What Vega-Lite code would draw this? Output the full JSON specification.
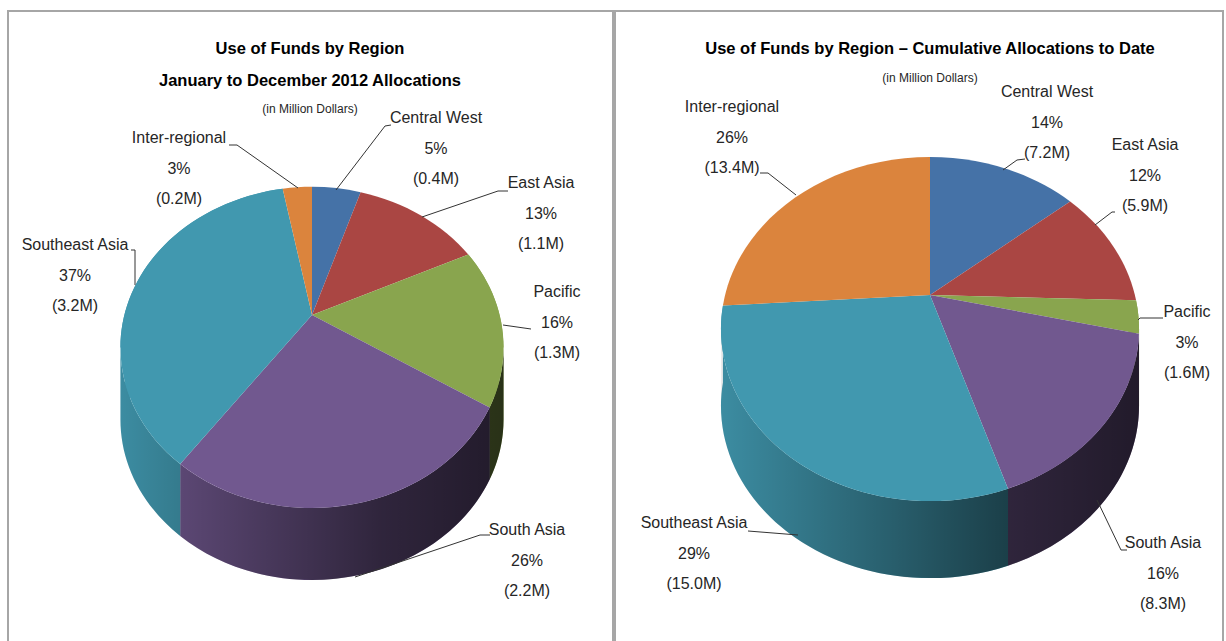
{
"$schema":"https://vega.github.io/schema/vega-lite/v6.json",
"width":1226,"height":641,"padding":0,"autosize":{"type":"none"},
"background":"white",
"view":{"stroke":null},
"config":{"text":{"font":"Liberation Sans"}},
"data":{"values":[
{"panel":"L","order":1,"region":"Central West","share":5,"amount":0.4},
{"panel":"L","order":2,"region":"East Asia","share":13,"amount":1.1},
{"panel":"L","order":3,"region":"Pacific","share":16,"amount":1.3},
{"panel":"L","order":4,"region":"South Asia","share":26,"amount":2.2},
{"panel":"L","order":5,"region":"Southeast Asia","share":37,"amount":3.2},
{"panel":"L","order":6,"region":"Inter-regional","share":3,"amount":0.2},
{"panel":"R","order":1,"region":"Central West","share":14.0,"amount":7.2},
{"panel":"R","order":2,"region":"East Asia","share":11.5,"amount":5.9},
{"panel":"R","order":3,"region":"Pacific","share":3.1,"amount":1.6},
{"panel":"R","order":4,"region":"South Asia","share":16.4,"amount":8.3},
{"panel":"R","order":5,"region":"Southeast Asia","share":29.0,"amount":15.0},
{"panel":"R","order":6,"region":"Inter-regional","share":26.0,"amount":13.4}
]},
"transform":[
{"stack":"share","groupby":["panel"],"sort":[{"field":"order","order":"ascending"}],"as":["s0","s1"]},
{"calculate":"datum.panel=='L'","as":"isL"},
{"calculate":"datum.isL?312:930","as":"cx"},
{"calculate":"datum.isL?315:295","as":"cy"},
{"calculate":"datum.isL?187.6:204.9","as":"a"},
{"calculate":"datum.isL?154:165.3","as":"b"},
{"calculate":"datum.isL?-0.202:-0.198","as":"k"},
{"calculate":"datum.isL?72:77","as":"depth"},
{"calculate":"datum.a/sqrt(1-datum.k*datum.k)","as":"R"},
{"calculate":"datum.b/(1-datum.k*datum.k)/datum.R","as":"rr"},
{"calculate":"-datum.b*datum.k/(1-datum.k*datum.k)/datum.R","as":"ec"},
{"calculate":"datum.depth/datum.R","as":"d"},
{"calculate":"4*datum.R*datum.R","as":"sz"},
{"calculate":"datum.s0/100*2*PI","as":"t0"},
{"calculate":"datum.s1/100*2*PI","as":"t1"},
{"calculate":"round(10000*datum.a*sin(datum.t0)/(1-datum.k*cos(datum.t0))/datum.R)/10000","as":"x0"},
{"calculate":"round(10000*datum.a*sin(datum.t1)/(1-datum.k*cos(datum.t1))/datum.R)/10000","as":"x1"},
{"calculate":"round(-10000*datum.b*cos(datum.t0)/(1-datum.k*cos(datum.t0))/datum.R)/10000","as":"y0"},
{"calculate":"round(-10000*datum.b*cos(datum.t1)/(1-datum.k*cos(datum.t1))/datum.R)/10000","as":"y1"},
{"calculate":"(atan2((datum.y1-datum.ec)/datum.rr,datum.x1)-atan2((datum.y0-datum.ec)/datum.rr,datum.x0)+4*PI)%(2*PI)>PI?1:0","as":"large"},
{"calculate":"'A1 '+datum.rr+' 0 '+datum.large+' 1 '+datum.x1+' '+datum.y1","as":"arcFwd"},
{"calculate":"'M0 0L'+datum.x0+' '+datum.y0+datum.arcFwd+'Z'","as":"topPath"},
{"calculate":"(datum.x0<0&&datum.x1<0&&datum.y0>datum.ec&&datum.y1<datum.ec)?('M-1 '+datum.ec+'L-1 '+(datum.ec+datum.d)+'L-0.95 '+(datum.ec+datum.d)+'L-0.95 '+datum.ec+'Z'):((datum.x0>0&&datum.x1>0&&datum.y0<datum.ec&&datum.y1>datum.ec)?('M1 '+datum.ec+'L0.95 '+datum.ec+'L0.95 '+(datum.ec+datum.d)+'L1 '+(datum.ec+datum.d)+'Z'):'')","as":"extremeFill"},
{"calculate":"'M'+datum.x0+' '+datum.y0+datum.arcFwd+'L'+datum.x1+' '+(datum.y1+datum.d)+'A1 '+datum.rr+' 0 '+datum.large+' 0 '+datum.x0+' '+(datum.y0+datum.d)+'Z'+datum.extremeFill","as":"sidePath"},
{"calculate":"'M1 '+datum.ec+'A1 '+datum.rr+' 0 0 1 -1 '+datum.ec+'L-1 '+(datum.ec+datum.d)+'A1 '+datum.rr+' 0 0 0 1 '+(datum.ec+datum.d)+'Z'","as":"shadePath"},
{"calculate":"datum.panel+'|'+datum.region","as":"key"},
{"calculate":"{'L|Central West':[436,123],'L|East Asia':[541,188],'L|Pacific':[557,297],'L|South Asia':[527,535],'L|Southeast Asia':[75,250],'L|Inter-regional':[179,143],'R|Central West':[1047,97],'R|East Asia':[1145,150],'R|Pacific':[1187,317],'R|South Asia':[1163,548],'R|Southeast Asia':[694,528],'R|Inter-regional':[732,112]}[datum.key]","as":"lab"},
{"calculate":"{'L|Central West':[391,125,385,126,336,190],'L|East Asia':[508,191,498,191,422,217],'L|Pacific':[531,329,531,329,503,325],'L|South Asia':[490,535,480,535,355,577],'L|Southeast Asia':[131,250,135,250,135,285],'L|Inter-regional':[229,145,237,145,298,188],'R|Central West':[1025,159,1017,160,1003,170],'R|East Asia':[1115,212,1112,212,1095,225],'R|Pacific':[1163,318,1140,318,1138,320],'R|South Asia':[1127,550,1121,550,1097,500],'R|Southeast Asia':[748,531,748,531,798,535],'R|Inter-regional':[760,173,768,173,796,195]}[datum.key]","as":"lead"},
{"calculate":"[datum.region,round(datum.share)+'%','('+(datum.amount==floor(datum.amount)?datum.amount+'.0':datum.amount)+'M)']","as":"labelLines"}
],
"encoding":{
"x":{"field":"px","type":"quantitative","axis":null,"scale":{"domain":[0,1226],"nice":false,"zero":false}},
"y":{"field":"py","type":"quantitative","axis":null,"scale":{"domain":[641,0],"nice":false,"zero":false}}
},
"layer":[
{"transform":[{"filter":"datum.order==1"},{"calculate":"datum.isL?8:615","as":"px"},{"calculate":"datum.isL?613:1223","as":"qx"},{"calculate":"11","as":"py"},{"calculate":"700","as":"qy"}],
"mark":{"type":"rect","fill":null,"stroke":"#a6a6a6","strokeWidth":2,"clip":false},
"encoding":{"x2":{"field":"qx"},"y2":{"field":"qy"}}},
{"transform":[{"filter":"datum.y0>=datum.ec||datum.y1>=datum.ec"},{"calculate":"datum.cx","as":"px"},{"calculate":"datum.cy","as":"py"}],
"mark":{"type":"point","filled":true,"opacity":1,"strokeWidth":0},
"encoding":{
"shape":{"field":"sidePath","type":"nominal","scale":null},
"size":{"field":"sz","type":"quantitative","scale":null},
"color":{"field":"region","type":"nominal","legend":null,"scale":{"domain":["Central West","East Asia","Pacific","South Asia","Southeast Asia","Inter-regional"],"range":["#4572A7","#AA4643","#89A54E","#71588F","#4198AF","#DB843D"]}}}},
{"transform":[{"filter":"datum.order==1"},{"calculate":"datum.cx","as":"px"},{"calculate":"datum.cy","as":"py"}],
"mark":{"type":"point","filled":true,"opacity":1,"strokeWidth":0,
"fill":{"gradient":"linear","x1":0,"y1":0,"x2":1,"y2":0,"stops":[{"offset":0,"color":"rgba(0,0,0,0.08)"},{"offset":0.68,"color":"rgba(0,0,0,0.58)"},{"offset":1,"color":"rgba(0,0,0,0.7)"}]}},
"encoding":{
"shape":{"field":"shadePath","type":"nominal","scale":null},
"size":{"field":"sz","type":"quantitative","scale":null}}},
{"transform":[{"calculate":"datum.cx","as":"px"},{"calculate":"datum.cy","as":"py"}],
"mark":{"type":"point","filled":true,"opacity":1,"strokeWidth":0},
"encoding":{
"shape":{"field":"topPath","type":"nominal","scale":null},
"size":{"field":"sz","type":"quantitative","scale":null},
"color":{"field":"region","type":"nominal","legend":null}}},
{"transform":[{"calculate":"datum.lead[0]","as":"px"},{"calculate":"datum.lead[1]","as":"py"},{"calculate":"datum.lead[2]","as":"qx"},{"calculate":"datum.lead[3]","as":"qy"}],
"mark":{"type":"rule","color":"#333333","strokeWidth":1},
"encoding":{"x2":{"field":"qx"},"y2":{"field":"qy"}}},
{"transform":[{"calculate":"datum.lead[2]","as":"px"},{"calculate":"datum.lead[3]","as":"py"},{"calculate":"datum.lead[4]","as":"qx"},{"calculate":"datum.lead[5]","as":"qy"}],
"mark":{"type":"rule","color":"#333333","strokeWidth":1},
"encoding":{"x2":{"field":"qx"},"y2":{"field":"qy"}}},
{"transform":[{"calculate":"datum.lab[0]","as":"px"},{"calculate":"datum.lab[1]","as":"py"}],
"mark":{"type":"text","fontSize":16,"lineHeight":30.5,"align":"center","baseline":"alphabetic","color":"#262626"},
"encoding":{"text":{"field":"labelLines"}}},
{"transform":[{"filter":"datum.order==1"},{"calculate":"datum.isL?310:930","as":"px"},{"calculate":"54","as":"py"},{"calculate":"datum.isL?['Use of Funds by Region','January to December  2012 Allocations']:['Use of Funds by Region – Cumulative Allocations to Date']","as":"titleLines"}],
"mark":{"type":"text","fontSize":16.5,"fontWeight":"bold","lineHeight":32,"align":"center","baseline":"alphabetic","color":"#000000"},
"encoding":{"text":{"field":"titleLines"}}},
{"transform":[{"filter":"datum.order==1"},{"calculate":"datum.isL?310:930","as":"px"},{"calculate":"datum.isL?113:82","as":"py"},{"calculate":"'(in Million Dollars)'","as":"sub"}],
"mark":{"type":"text","fontSize":12,"align":"center","baseline":"alphabetic","color":"#262626"},
"encoding":{"text":{"field":"sub"}}}
]
}
